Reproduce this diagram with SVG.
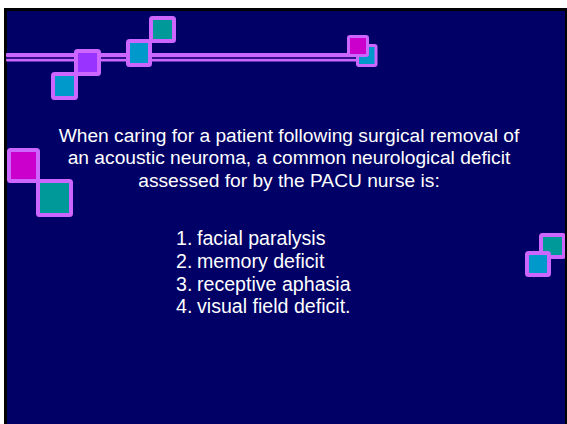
<svg xmlns="http://www.w3.org/2000/svg" width="567" height="424" viewBox="0 0 567 424">
  <style>
    .sq { stroke: #CC66FF; stroke-width: 4; }
    .sq3 { stroke: #CC66FF; stroke-width: 3; }
    .purple { fill: #9933FF; }
    .cyan { fill: #0099CC; }
    .teal { fill: #009999; }
    .magenta { fill: #CC00CC; }
    .band { fill: #CC66FF; }
    text { font-family: "Liberation Sans", Arial, sans-serif; font-size: 19.2px; fill: #FFFFFF; }
    #options text { font-size: 19.6px; }
  </style>

  <!-- page and slide frame -->
  <rect x="0" y="0" width="567" height="424" fill="#FFFFFF"/>
  <rect x="4" y="8" width="563" height="416" fill="#000000"/>
  <rect x="7" y="11" width="558" height="413" fill="#000066"/>

  <!-- double rule across the top -->
  <g id="rule">
    <rect x="6" y="57" width="354" height="2" fill="#33118A"/>
    <rect class="band" x="6" y="53" width="354" height="4" rx="1"/>
    <rect class="band" x="6" y="59" width="354" height="2.5" rx="1"/>
  </g>

  <!-- decorative squares, top-left cluster -->
  <g id="sq-top-left">
    <rect class="sq cyan" x="53" y="74" width="23" height="24" rx="1.5"/>
    <rect class="sq purple" x="76" y="51" width="23" height="23" rx="1.5"/>
    <rect class="sq cyan" x="128" y="41" width="22" height="24" rx="1.5"/>
    <rect class="sq teal" x="151" y="18" width="23" height="23" rx="1.5"/>
  </g>

  <!-- small pair at the end of the rule -->
  <g id="sq-top-right">
    <rect class="sq3 cyan" x="357.5" y="45.5" width="18.5" height="20" rx="1.5"/>
    <rect class="sq3 magenta" x="348.5" y="36.5" width="19" height="19" rx="1.5"/>
  </g>

  <!-- pair on the left edge -->
  <g id="sq-left">
    <rect class="sq magenta" x="9" y="150" width="29" height="31" rx="1.5"/>
    <rect class="sq teal" x="38" y="181" width="33" height="34" rx="1.5"/>
  </g>

  <!-- pair on the right edge -->
  <g id="sq-right">
    <rect class="sq teal" x="541" y="235" width="23" height="22" rx="1.5"/>
    <rect class="sq cyan" x="527" y="253" width="22" height="22" rx="1.5"/>
  </g>

  <rect x="565" y="8" width="2" height="416" fill="#000000"/>

  <!-- question -->
  <g id="question">
    <text x="289" y="141.5" text-anchor="middle">When caring for a patient following surgical removal of</text>
    <text x="289" y="164" text-anchor="middle">an acoustic neuroma, a common neurological deficit</text>
    <text x="289" y="186.5" text-anchor="middle">assessed for by the PACU nurse is:</text>
  </g>

  <!-- answer options -->
  <g id="options">
    <text x="176" y="245">1.</text><text x="197" y="245">facial paralysis</text>
    <text x="176" y="268">2.</text><text x="197" y="268">memory deficit</text>
    <text x="176" y="291">3.</text><text x="197" y="291">receptive aphasia</text>
    <text x="176" y="313">4.</text><text x="197" y="313">visual field deficit.</text>
  </g>
</svg>
